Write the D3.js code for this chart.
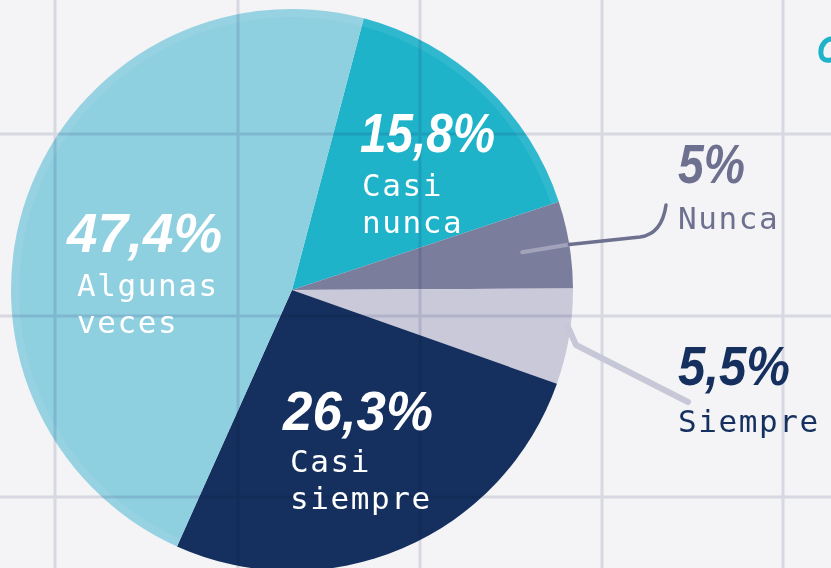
<!DOCTYPE html>
<html>
<head>
<meta charset="utf-8">
<script src="https://cdn.jsdelivr.net/npm/d3@7"></script>
<style>
  html, body { margin: 0; padding: 0; background: #f4f4f6; overflow: hidden; }
  svg { display: block; }
</style>
</head>
<body>
<svg id="chart" width="831" height="568"></svg>
<script>
// ---- data ----
const categories = ["Casi nunca", "Nunca", "Siempre", "Casi siempre", "Algunas veces"];
const values = [15.8, 5, 5.5, 26.3, 47.4];
const pctLabels = ["15,8%", "5%", "5,5%", "26,3%", "47,4%"];
const nameLines = [["Casi", "nunca"], ["Nunca"], ["Siempre"], ["Casi", "siempre"], ["Algunas", "veces"]];
const colors = ["#1fb3ca", "#7b7d9d", "#c9c9da", "#15305e", "#8ecfe0"];

// ---- layout ----
const W = 831, H = 568;
const cx = 292, cy = 290, R = 281;
const svg = d3.select("#chart");

svg.append("rect").attr("width", W).attr("height", H).attr("fill", "#f4f4f6");

// pie
const startDeg = 14.8;
const pie = d3.pie().sort(null).value(d => d)
  .startAngle(startDeg * Math.PI / 180)
  .endAngle(startDeg * Math.PI / 180 + 2 * Math.PI);
const arcs = pie(values);
const arc = d3.arc().innerRadius(0).outerRadius(R);
const rim = d3.arc().innerRadius(R - 8).outerRadius(R);

const g = svg.append("g").attr("transform", `translate(${cx},${cy})`);
g.selectAll("path.slice").data(arcs).join("path")
  .attr("class", "slice")
  .attr("d", arc)
  .attr("fill", (d, i) => colors[i]);
g.selectAll("path.rim").data(arcs.filter((d, i) => i === 0 || i === 4)).join("path")
  .attr("class", "rim")
  .attr("d", rim)
  .attr("fill", "#ffffff")
  .attr("opacity", 0.08);

// grid paper lines
const gx = [55, 238, 420, 602, 783];
const gy = [134, 316, 497];
const grid = svg.append("g").style("mix-blend-mode", "multiply");
grid.selectAll("line.v").data(gx).join("line")
  .attr("x1", d => d).attr("x2", d => d).attr("y1", 0).attr("y2", H)
  .attr("stroke", "#e2e2ec").attr("stroke-width", 3);
grid.selectAll("line.h").data(gy).join("line")
  .attr("y1", d => d).attr("y2", d => d).attr("x1", 0).attr("x2", W)
  .attr("stroke", "#e2e2ec").attr("stroke-width", 3);

// leader lines
function pt(angle, r) { return [cx + r * Math.sin(angle), cy - r * Math.cos(angle)]; }
const aN = (arcs[1].startAngle + arcs[1].endAngle) / 2;
const pN0 = pt(aN, R * 0.83), pN1 = pt(aN, R * 1.0);
svg.append("path")
  .attr("d", `M${pN0[0]},${pN0[1]} L${pN1[0]},${pN1[1]}`)
  .attr("stroke", "#a2a3bb").attr("stroke-width", 4).attr("fill", "none").attr("stroke-linecap", "round");
svg.append("path")
  .attr("d", `M${pN1[0]},${pN1[1]} L640,237 Q662,234 666,205`)
  .attr("stroke", "#6e7090").attr("stroke-width", 3.5).attr("fill", "none").attr("stroke-linecap", "round");

const aS = (arcs[2].startAngle + arcs[2].endAngle) / 2;
const pS0 = pt(aS, R * 0.98);
svg.append("path")
  .attr("d", `M${pS0[0] + 4},${pS0[1] - 10} L576,345 L688,402`)
  .attr("stroke", "#c6c7d7").attr("stroke-width", 6).attr("fill", "none")
  .attr("stroke-linecap", "round").attr("stroke-linejoin", "round");

// labels
const pctFont = "'Liberation Sans', Arial, sans-serif";
const monoFont = "'DejaVu Sans Mono', 'Liberation Mono', monospace";
const labelPos = [
  { x: 360, y: 152, w: 135, fs: 56, c: "#ffffff", tx: 362, ty: 196, tc: "#ffffff" },
  { x: 678, y: 183, w: 67,  fs: 56, c: "#6e7090", tx: 678, ty: 229, tc: "#6e7090" },
  { x: 678, y: 385, w: 112, fs: 56, c: "#15305e", tx: 678, ty: 432, tc: "#15305e" },
  { x: 283, y: 430, w: 150, fs: 56, c: "#ffffff", tx: 290, ty: 472, tc: "#ffffff" },
  { x: 67,  y: 252, w: 155, fs: 56, c: "#ffffff", tx: 77,  ty: 296, tc: "#ffffff" }
];
const lab = svg.append("g");
arcs.forEach((d, i) => {
  const p = labelPos[i];
  lab.append("text")
    .attr("x", p.x).attr("y", p.y)
    .attr("textLength", p.w).attr("lengthAdjust", "spacingAndGlyphs")
    .attr("font-family", pctFont).attr("font-weight", 700).attr("font-style", "italic")
    .attr("font-size", p.fs).attr("fill", p.c)
    .text(pctLabels[i]);
  nameLines[i].forEach((ln, j) => {
    lab.append("text")
      .attr("x", p.tx).attr("y", p.ty + j * 36.5)
      .attr("font-family", monoFont).attr("font-size", 31)
      .attr("letter-spacing", 1.6)
      .attr("fill", p.tc)
      .text(ln);
  });
});

// partial teal mark at the top-right edge
svg.append("path")
  .attr("d", "M836,40 C826,36 820,46 821,54 C822,62 832,62 836,56")
  .attr("stroke", "#1fb3ca").attr("stroke-width", 5).attr("fill", "none").attr("stroke-linecap", "round");
</script>
</body>
</html>
